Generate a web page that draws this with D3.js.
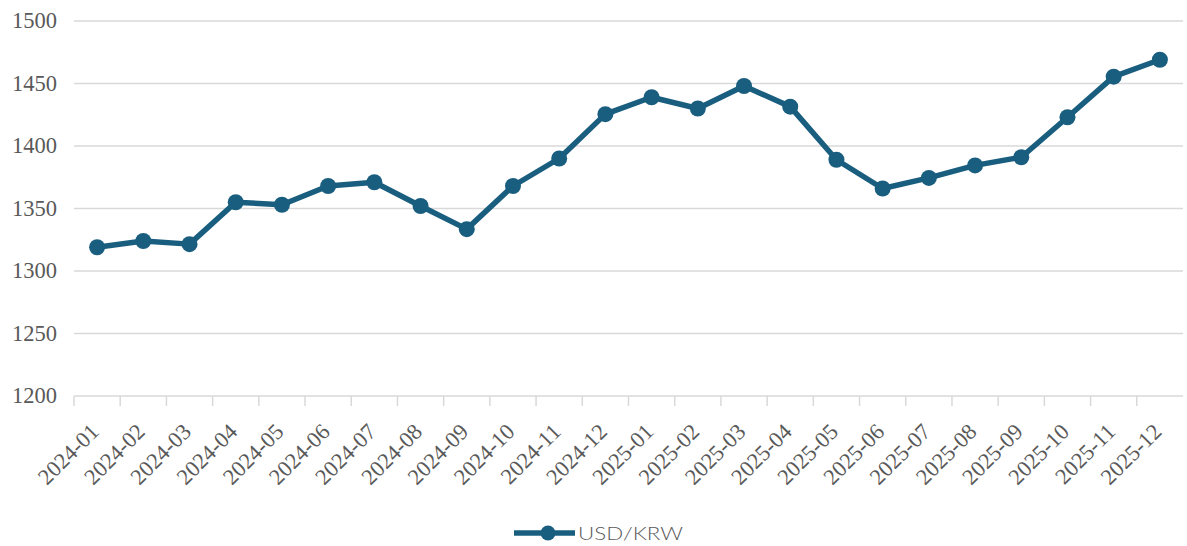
<!DOCTYPE html>
<html>
<head>
<meta charset="utf-8">
<script src="https://cdn.jsdelivr.net/npm/d3@7"></script>
<style>
  body { margin: 0; background: #fff; }
  svg { display: block; }
  .serif { font-family: "Liberation Serif", "Times New Roman", "DejaVu Serif", serif; }
</style>
</head>
<body>
<svg id="chart" width="1187" height="546"></svg>
<script>
// monthly USD/KRW
const months = ['2024-01', '2024-02', '2024-03', '2024-04', '2024-05', '2024-06',
    '2024-07', '2024-08', '2024-09', '2024-10', '2024-11', '2024-12',
    '2025-01', '2025-02', '2025-03', '2025-04', '2025-05', '2025-06',
    '2025-07', '2025-08', '2025-09', '2025-10', '2025-11', '2025-12'];
const usdKrw = [1319, 1324, 1321.5, 1355, 1353, 1368, 1371, 1352, 1333.5, 1368, 1390, 1425.5,
    1439, 1430, 1448, 1431.5, 1389, 1366, 1374.5, 1384.5, 1391, 1423, 1455.5, 1469];
const yTicks = [1200, 1250, 1300, 1350, 1400, 1450, 1500];
const seriesName = 'USD/KRW';

const color = '#1a5e7f';
const gray = '#595959';

const svg = d3.select('#chart');
const margin = {left: 74, right: 4, top: 21, bottom: 150};
const width = 1187, height = 546;

const x = d3.scaleBand()
    .domain(months)
    .range([margin.left, width - margin.right]);
const y = d3.scaleLinear()
    .domain([1200, 1500])
    .range([height - margin.bottom, margin.top]);

// gridlines
svg.append('g')
    .selectAll('line')
    .data(yTicks.slice(1))
    .join('line')
    .attr('x1', margin.left)
    .attr('x2', width - margin.right)
    .attr('y1', d => y(d))
    .attr('y2', d => y(d))
    .attr('stroke', '#d9d9d9')
    .attr('stroke-width', 1.5);

// y labels
svg.append('g')
    .selectAll('text')
    .data(yTicks)
    .join('text')
    .attr('class', 'serif')
    .attr('x', 57)
    .attr('y', d => y(d))
    .attr('dy', '0.33em')
    .attr('text-anchor', 'end')
    .attr('font-size', 22.5)
    .attr('fill', gray)
    .text(d => d);

// x axis
const xAxis = svg.append('g')
    .attr('transform', `translate(0,${y(1200)})`);
xAxis.append('line')
    .attr('x1', margin.left)
    .attr('x2', width - margin.right)
    .attr('stroke', '#d9d9d9')
    .attr('stroke-width', 1.5);
xAxis.selectAll('line.tick')
    .data(months)
    .join('line')
    .attr('class', 'tick')
    .attr('x1', d => x(d))
    .attr('x2', d => x(d))
    .attr('y1', 0)
    .attr('y2', 10)
    .attr('stroke', '#d9d9d9')
    .attr('stroke-width', 1.5);
xAxis.selectAll('text')
    .data(months)
    .join('text')
    .attr('class', 'serif')
    .attr('transform', d => `translate(${x(d) + x.bandwidth() / 2 + 3},37) rotate(-45)`)
    .attr('text-anchor', 'end')
    .attr('font-size', 22.5)
    .attr('fill', gray)
    .text(d => d);

// line + markers
const cx = (d, i) => x(months[i]) + x.bandwidth() / 2;
const line = d3.line()
    .x(cx)
    .y(d => y(d));

svg.append('path')
    .datum(usdKrw)
    .attr('d', line)
    .attr('fill', 'none')
    .attr('stroke', color)
    .attr('stroke-width', 5.5)
    .attr('stroke-linejoin', 'round');

svg.append('g')
    .selectAll('circle')
    .data(usdKrw)
    .join('circle')
    .attr('cx', cx)
    .attr('cy', d => y(d))
    .attr('r', 8)
    .attr('fill', color);

// legend
const lg = svg.append('g').attr('transform', 'translate(514,533)');
lg.append('line')
    .attr('x1', 0).attr('x2', 61)
    .attr('stroke', color)
    .attr('stroke-width', 5.5);
lg.append('circle')
    .attr('cx', 34)
    .attr('r', 7.5)
    .attr('fill', color);
lg.append('text')
    .attr('x', 64)
    .attr('dy', '0.36em')
    .attr('font-family', 'Lato, "Noto Sans", sans-serif')
    .attr('font-weight', 300)
    .attr('font-size', 18.5)
    .attr('textLength', 105)
    .attr('lengthAdjust', 'spacingAndGlyphs')
    .attr('fill', gray)
    .text(seriesName);
</script>
</body>
</html>
